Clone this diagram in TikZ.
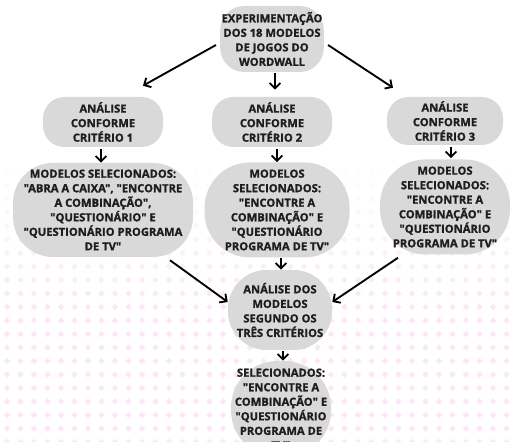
\documentclass[tikz,border=0pt]{standalone}
\usepackage{fontspec}
\setmainfont{Open Sans}[Ligatures=TeXOff, BoldFeatures={FakeBold=1.2}]
\usetikzlibrary{arrows.meta}
\definecolor{boxgray}{RGB}{217,217,217}
\definecolor{txt}{RGB}{30,30,30}
\definecolor{dotpink}{RGB}{252,230,248}
\newcommand\qq{\char34\relax}
\tikzset{
  box/.style={fill=boxgray, text=txt, align=center, inner sep=1pt,
    font=\bfseries\fontsize{8.4}{10.9}\selectfont},
  arr/.style={draw=black, line width=1.4pt, -{Straight Barb[length=4pt,width=8pt,line width=1.4pt]}},
}
\begin{document}
\begin{tikzpicture}[x=0.75pt,y=-0.75pt]
\fill[white] (0,0) rectangle (512,442);
\useasboundingbox (0,0) rectangle (512,442);
% dotted background
\foreach \r in {0,...,20}{
  \pgfmathsetmacro{\yy}{172+\r*13.5}
  \pgfmathsetmacro{\op}{min(1,(\yy-160)/150)}
  \foreach \c in {0,...,38}{
    \pgfmathsetmacro{\xx}{7+\c*13.5}
    \fill[dotpink, opacity=\op] (\xx,\yy-3.2) -- (\xx+3.2,\yy) -- (\xx,\yy+3.2) -- (\xx-3.2,\yy) -- cycle;
  }
}
% nodes
\node[box, minimum width=75pt, minimum height=49.5pt, rounded corners=18pt] (top) at (272,39)
  {EXPERIMENTAÇÃO\\DOS 18 MODELOS\\DE JOGOS DO\\WORDWALL};
\node[box, minimum width=90pt, minimum height=37.5pt, rounded corners=16pt] (a1) at (103,122)
  {ANÁLISE\\CONFORME\\CRITÉRIO 1};
\node[box, minimum width=90pt, minimum height=37.5pt, rounded corners=16pt] (a2) at (272,122)
  {ANÁLISE\\CONFORME\\CRITÉRIO 2};
\node[box, minimum width=87pt, minimum height=36pt, rounded corners=16pt] (a3) at (445,121)
  {ANÁLISE\\CONFORME\\CRITÉRIO 3};
\node[box, minimum width=135pt, minimum height=70.5pt, rounded corners=30pt] (m1) at (103,210)
  {MODELOS SELECIONADOS:\\\qq ABRA A CAIXA\qq, \qq ENCONTRE\\A COMBINAÇÃO\qq,\\\qq QUESTIONÁRIO\qq{} E\\\qq QUESTIONÁRIO PROGRAMA\\DE TV\qq};
\node[box, minimum width=108.75pt, minimum height=71.25pt, rounded corners=34pt] (m2) at (277,210)
  {MODELOS\\SELECIONADOS:\\\qq ENCONTRE A\\COMBINAÇÃO\qq{} E\\\qq QUESTIONÁRIO\\PROGRAMA DE TV\qq};
\node[box, minimum width=97.5pt, minimum height=71.25pt, rounded corners=34pt] (m3) at (445,207)
  {MODELOS\\SELECIONADOS:\\\qq ENCONTRE A\\COMBINAÇÃO\qq{} E\\\qq QUESTIONÁRIO\\PROGRAMA DE TV\qq};
\node[box, minimum width=78pt, minimum height=60pt, rounded corners=29pt] (am) at (280,310)
  {ANÁLISE DOS\\MODELOS\\SEGUNDO OS\\TRÊS CRITÉRIOS};
\node[box, minimum width=75pt, minimum height=72pt, rounded corners=35pt] (sel) at (281,409)
  {SELECIONADOS:\\\qq ENCONTRE A\\COMBINAÇÃO\qq{} E\\\qq QUESTIONÁRIO\\PROGRAMA DE\\TV\qq};
% connectors
\draw[arr] ([shift={(-4,6)}]top.west) -- ([shift={(40,-11)}]a1.north);
\draw[arr] ([shift={(3,1)}]top.south) -- ([shift={(3,-7)}]a2.north);
\draw[arr] ([shift={(4,6)}]top.east) -- ([shift={(-52,-9)}]a3.north);
\draw[arr] ([shift={(-2,2)}]a1.south) -- ([shift={(-2,0)}]m1.north);
\draw[arr] ([shift={(5,2)}]a2.south) -- ([shift={(0,0)}]m2.north);
\draw[arr] ([shift={(6,2)}]a3.south) -- ([shift={(6,-1)}]m3.north);
\draw[arr] ([shift={(67,3)}]m1.south) -- ([shift={(0,-8)}]am.west);
\draw[arr] ([shift={(4,0)}]m2.south) -- ([shift={(1,0)}]am.north);
\draw[arr] ([shift={(-47,3)}]m3.south) -- ([shift={(0,-8)}]am.east);
\draw[arr] ([shift={(3,1)}]am.south) -- ([shift={(2,0)}]sel.north);
\end{tikzpicture}
\end{document}
